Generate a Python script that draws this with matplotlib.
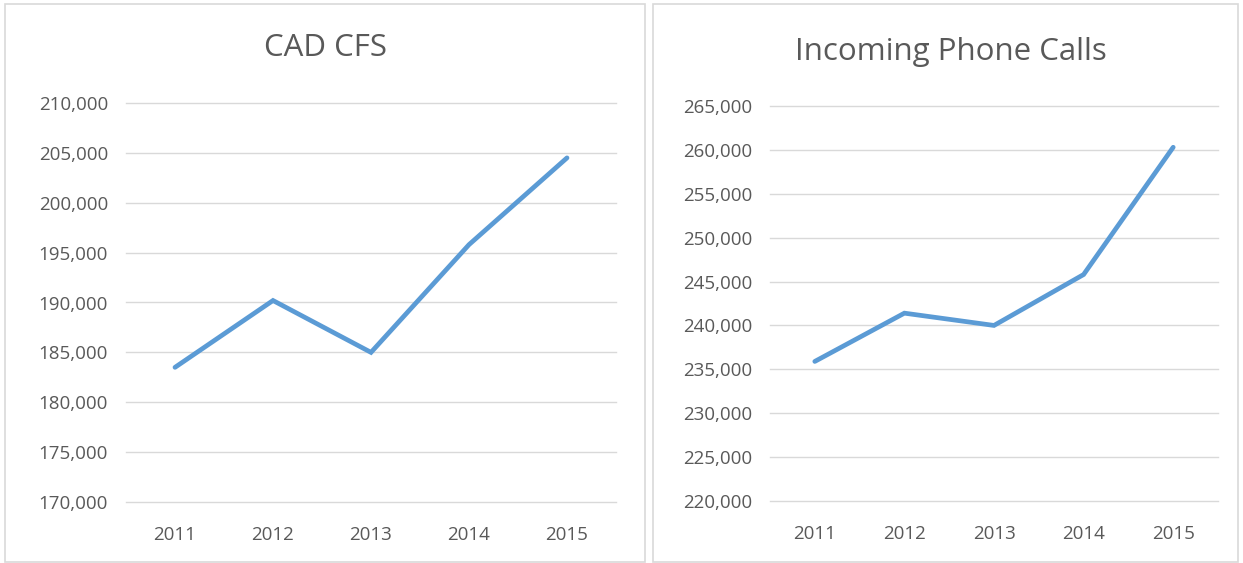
import matplotlib
matplotlib.use("Agg")
import matplotlib.pyplot as plt
from matplotlib import ticker
from matplotlib.patches import Rectangle

years = ["2011", "2012", "2013", "2014", "2015"]
cad_cfs = [183500, 190200, 185000, 195800, 204500]
phone_calls = [235900, 241400, 240000, 245800, 260300]

plt.rcParams['font.family'] = ['Open Sans', 'DejaVu Sans']

W, H = 1243, 563
fig = plt.figure(figsize=(W / 100, H / 100), dpi=100)
fig.patch.set_facecolor('white')

# panel borders (pixel coords)
for x0, x1 in [(5, 645), (653, 1238)]:
    fig.patches.append(Rectangle((x0 / W, 1 / H), (x1 - x0) / W, (H - 5) / H,
                                 transform=fig.transFigure, fill=False,
                                 edgecolor='#d9d9d9', linewidth=1.2))


def panel(rect, values, ylo, yhi, title, title_x, title_y):
    ax = fig.add_axes([rect[0] / W, rect[1] / H, rect[2] / W, rect[3] / H])
    ax.plot(range(len(years)), values, color='#5b9bd5', linewidth=3.4,
            solid_capstyle='round', solid_joinstyle='miter', zorder=3)
    ax.set_xlim(-0.5, len(years) - 0.5)
    ax.set_ylim(ylo, yhi)
    ax.set_xticks(range(len(years)))
    ax.set_xticklabels(years)
    ax.yaxis.set_major_locator(ticker.MultipleLocator(5000))
    ax.yaxis.set_major_formatter(ticker.FuncFormatter(lambda v, p: f"{int(v):,}"))
    ax.grid(axis='y', color='#d9d9d9', linewidth=1)
    for gl in ax.get_ygridlines():
        gl.set_clip_on(False)
    ax.set_axisbelow(True)
    for s in ax.spines.values():
        s.set_visible(False)
    ax.tick_params(length=0, labelsize=13.5, colors='#595959')
    ax.tick_params(axis='y', pad=13)
    ax.tick_params(axis='x', pad=17)
    fig.text(title_x / W, 1 - title_y / H, title, ha='center', va='center',
             fontsize=22.5, color='#595959')
    return ax


panel((126, 61, 490, 399), cad_cfs, 170000, 210000, "CAD CFS", 326, 48)
panel((770, 62, 448, 395), phone_calls, 220000, 265000, "Incoming Phone Calls", 951, 52)

fig.savefig("out.png", dpi=100)
